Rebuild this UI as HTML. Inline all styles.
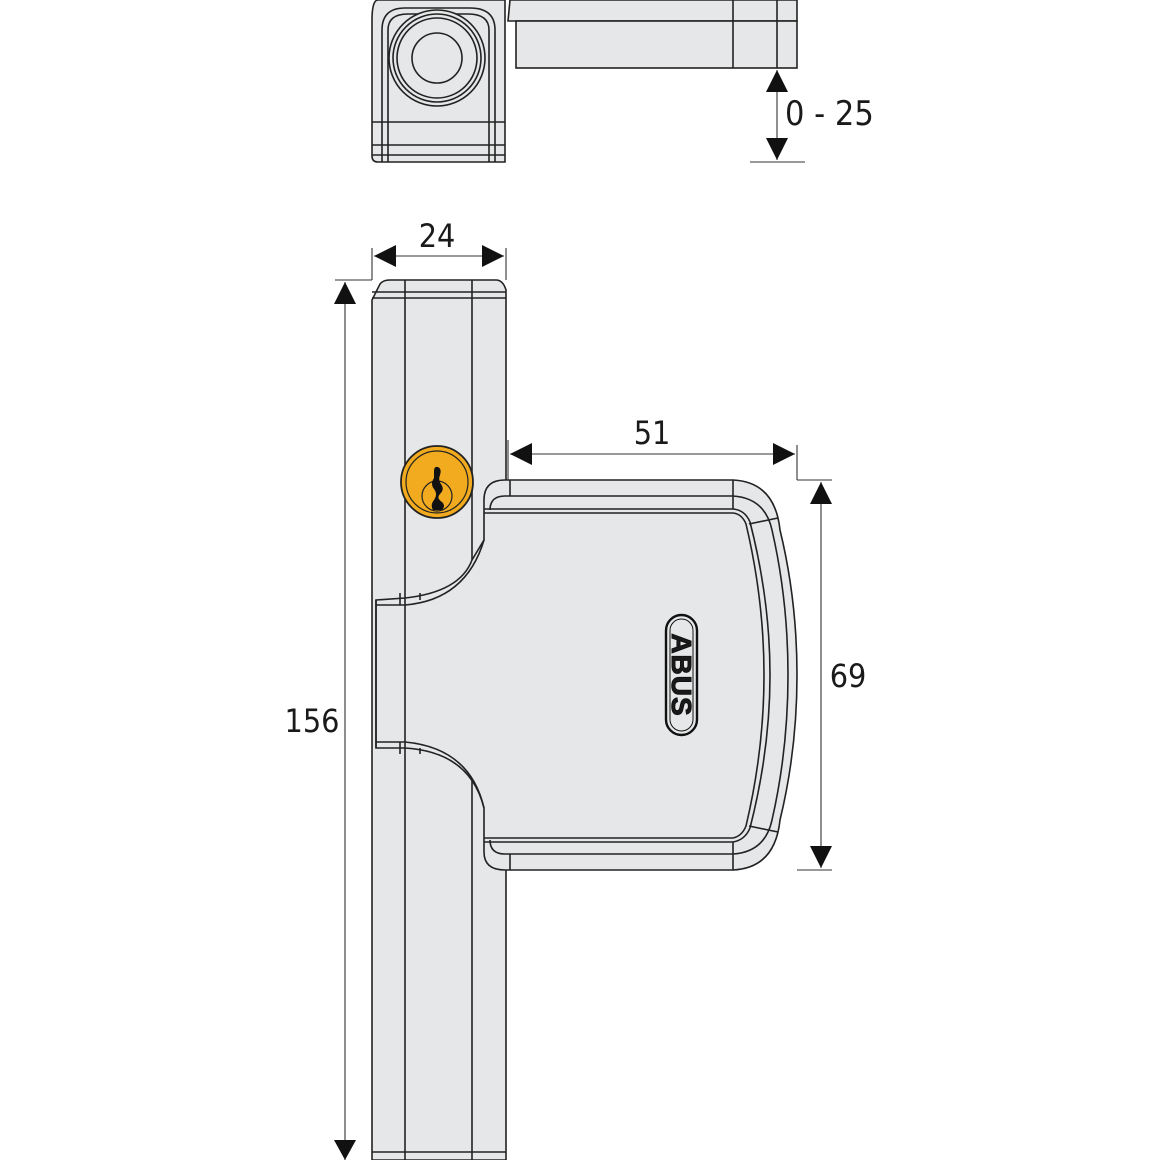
<!DOCTYPE html>
<html><head><meta charset="utf-8"><style>
html,body{margin:0;padding:0;background:#fff;}
svg{display:block;}
text{font-family:"DejaVu Sans Condensed","Liberation Sans",sans-serif;fill:#1a1a1a;}
</style></head><body>
<svg width="1160" height="1160" viewBox="0 0 1160 1160" xmlns="http://www.w3.org/2000/svg">
<defs>
<marker id="a" viewBox="0 0 10 10" refX="10" refY="5" markerWidth="22" markerHeight="22" markerUnits="userSpaceOnUse" orient="auto-start-reverse"><path d="M0,0 L10,5 L0,10 z" fill="#111"/></marker>
</defs>
<g stroke="#222" stroke-width="1.6" fill="#e6e7e8">
<!-- top view -->
<path d="M378,0 L505,0 L505,162 L378,162 Q372,162 372,156 L372,20 Q372,0 378,0 z"/>
<path d="M382,162 L382,30 Q382,8 405,8 L470,8 Q495,8 495,30 L495,162" fill="none"/>
<path d="M388,162 L388,30 Q388,14 408,14 L468,14 Q489,14 489,30 L489,162" fill="none"/>
<line x1="372" y1="122" x2="505" y2="122"/><line x1="372" y1="145" x2="505" y2="145"/><line x1="372" y1="155" x2="505" y2="155"/>
<circle cx="437" cy="58" r="48"/><circle cx="437" cy="58" r="44" fill="none"/><circle cx="437" cy="58" r="40" fill="none"/><circle cx="437" cy="58" r="25" fill="none"/>
<path d="M510,0 L797,0 L797,21 L508,21 z"/>
<rect x="516" y="21" width="281" height="47"/>
<line x1="733" y1="0" x2="733" y2="68"/><line x1="777" y1="0" x2="777" y2="68"/>
<!-- vertical bar -->
<path d="M372,300 L380,284 Q383,280 390,280 L496,280 Q503,280 506,290 L506,1160 L372,1160 z"/>
<line x1="405" y1="280" x2="405" y2="1160"/><line x1="472" y1="280" x2="472" y2="1160"/>
<line x1="372" y1="292" x2="506" y2="292"/><line x1="372" y1="298" x2="506" y2="298"/>
<line x1="372" y1="1152" x2="506" y2="1152"/>
<!-- leaf -->
<path d="M376,600 L405,598 Q460,592 472,560 L484,540 L484,500 Q484,480 505,480 L733,480 Q775,482 780,530 Q797,600 797,675 Q797,750 780,820 Q775,868 733,870 L505,870 Q484,870 484,852 L484,808 Q470,752 405,748 L376,748 z"/>
<path d="M376,605 L405,605 Q466,600 484,540" fill="none"/>
<path d="M376,742 L405,742 Q470,748 484,808" fill="none"/>
<line x1="405" y1="598" x2="405" y2="748"/>
<path d="M490,510 Q490,496 505,496 L733,496 Q765,498 772,530 Q788,600 788,675 Q788,750 772,820 Q765,852 733,854 L505,854 Q490,854 490,840" fill="none"/>
<line x1="484" y1="509" x2="733" y2="509"/><line x1="484" y1="513" x2="733" y2="513"/>
<line x1="484" y1="838" x2="733" y2="838"/><line x1="484" y1="842" x2="733" y2="842"/>
<path d="M733,509 Q745,510 750,522 Q770,600 770,675 Q770,750 750,828 Q745,840 733,842" fill="none"/>
<path d="M733,513 Q742,514 746,524 Q764,600 764,675 Q764,750 746,826 Q742,836 733,838" fill="none"/>
<line x1="749" y1="524" x2="778" y2="518"/><line x1="749" y1="826" x2="778" y2="832"/>
<line x1="733" y1="480" x2="733" y2="509"/><line x1="733" y1="842" x2="733" y2="870"/>
<line x1="510" y1="480" x2="510" y2="496"/><line x1="510" y1="854" x2="510" y2="870"/>
<line x1="376" y1="600" x2="376" y2="748"/>
<line x1="400" y1="593" x2="400" y2="605"/><line x1="420" y1="593" x2="420" y2="600"/>
<line x1="400" y1="742" x2="400" y2="754"/><line x1="420" y1="748" x2="420" y2="754"/>
</g>
<!-- keyhole -->
<circle cx="437" cy="482" r="36" fill="#f2ab1e" stroke="#222" stroke-width="1.8"/>
<circle cx="437" cy="482" r="31" fill="none" stroke="#222" stroke-width="1.2"/>
<circle cx="437" cy="496" r="15" fill="none" stroke="#222" stroke-width="1.2"/>
<path d="M434,471 Q434,466 438,467 Q442,469 440,475 Q438,480 441,484 Q445,489 440,494 Q436,498 442,502 Q446,506 442,510 L433,510 Q430,505 434,500 Q438,494 434,489 Q430,484 434,478 z" fill="#111"/>
<!-- ABUS badge -->
<rect x="666" y="615" width="31" height="120" rx="15.5" fill="#e6e7e8" stroke="#111" stroke-width="2.4"/>
<rect x="670" y="619" width="23" height="112" rx="11.5" fill="none" stroke="#111" stroke-width="1"/>
<text x="0" y="0" transform="translate(672,675) rotate(90)" text-anchor="middle" font-weight="900" font-size="28" style="font-family:'Liberation Sans',sans-serif;letter-spacing:1px;stroke:#111;stroke-width:1" dy="0">ABUS</text>
<!-- dimensions -->
<g stroke="#333" stroke-width="1.1" fill="none">
<line x1="750" y1="162" x2="805" y2="162"/>
<line x1="777" y1="70" x2="777" y2="160" marker-start="url(#a)" marker-end="url(#a)"/>
<line x1="372" y1="248" x2="372" y2="280"/><line x1="506" y1="248" x2="506" y2="280"/>
<line x1="374" y1="256" x2="504" y2="256" marker-start="url(#a)" marker-end="url(#a)"/>
<line x1="335" y1="280" x2="372" y2="280"/>
<line x1="345" y1="282" x2="345" y2="1160" marker-start="url(#a)"/>
<line x1="508" y1="440" x2="508" y2="480"/><line x1="797" y1="445" x2="797" y2="480"/>
<line x1="510" y1="454" x2="795" y2="454" marker-start="url(#a)" marker-end="url(#a)"/>
<line x1="797" y1="480" x2="832" y2="480"/><line x1="797" y1="870" x2="832" y2="870"/>
<line x1="821" y1="482" x2="821" y2="868" marker-start="url(#a)" marker-end="url(#a)"/>
</g>
<path d="M334,1140 L356,1140 L345,1160 z" fill="#111"/>
<text x="785" y="125" font-size="34">0 - 25</text>
<text x="437" y="247" font-size="32" text-anchor="middle">24</text>
<text x="312" y="732" font-size="32" text-anchor="middle">156</text>
<text x="652" y="444" font-size="32" text-anchor="middle">51</text>
<text x="848" y="687" font-size="32" text-anchor="middle">69</text>
</svg>
</body></html>
